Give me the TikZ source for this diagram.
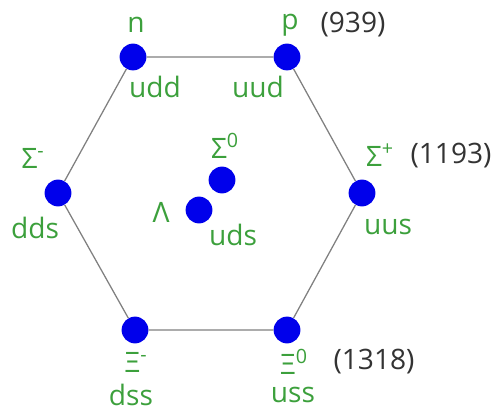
\documentclass[tikz,border=0pt]{standalone}
\usepackage{fontspec}
\setmainfont{Open Sans}
\usetikzlibrary{positioning}

\definecolor{quarkgreen}{RGB}{60,160,60}
\definecolor{dotblue}{RGB}{0,0,235}

\begin{document}
\begin{tikzpicture}[
            x=0.025cm,
            y=-0.025cm,
            baryon/.style={
                circle,
                fill=dotblue,
                inner sep=0pt,
                minimum size=0.67cm
            },
            label/.style={
                text=quarkgreen,
                inner sep=0pt,
                font=\fontsize{20}{22}\selectfont
            },
            mass/.style={
                text=black!80,
                inner sep=0pt,
                font=\fontsize{20}{22}\selectfont
            },
            side/.style={
                draw=gray,
                line width=0.9pt
            }
        ]

            % Canvas
            \useasboundingbox (0,0) rectangle (498,412);

            % Baryon dots
            \foreach \id/\x/\y in {n/133/57, p/287/57, sm/58/193, sp/362/193,
                                   xm/135/330, xz/287/330, sz/222/180, la/199/210} {
                \node[baryon] (\id) at (\x,\y) {};
            }

            % Hexagon sides
            \draw[side] (n) -- (p) -- (sp) -- (xz) -- (xm) -- (sm) -- (n);

            % Particle names
            \foreach \id/\x/\y/\t in {nname/136/25/n, pname/290/25/p,
                                      smname/33/158/{Σ\textsuperscript{-}},
                                      szname/225/146/{Σ\textsuperscript{0}},
                                      laname/161/212/Λ,
                                      spname/380/155/{Σ\textsuperscript{+}},
                                      xmname/136/362/{Ξ\textsuperscript{-}},
                                      xzname/294/362/{Ξ\textsuperscript{0}}} {
                \node[label] (\id) at (\x,\y) {\t};
            }

            % Quark content
            \foreach \id/\x/\y/\q in {nq/155/87/udd, pq/258/87/uud,
                                      smq/35/228/dds, laq/233/235/uds,
                                      spq/388/227/uus, xmq/131/395/dss,
                                      xzq/293/395/uss} {
                \node[label] (\id) at (\x,\y) {\q};
            }

            % Masses
            \node[mass] (m939) at (353,25) {(939)};
            \node[mass] (m1193) at (451,156) {(1193)};
            \node[mass] (m1318) at (374,362) {(1318)};

        \end{tikzpicture}
\end{document}
